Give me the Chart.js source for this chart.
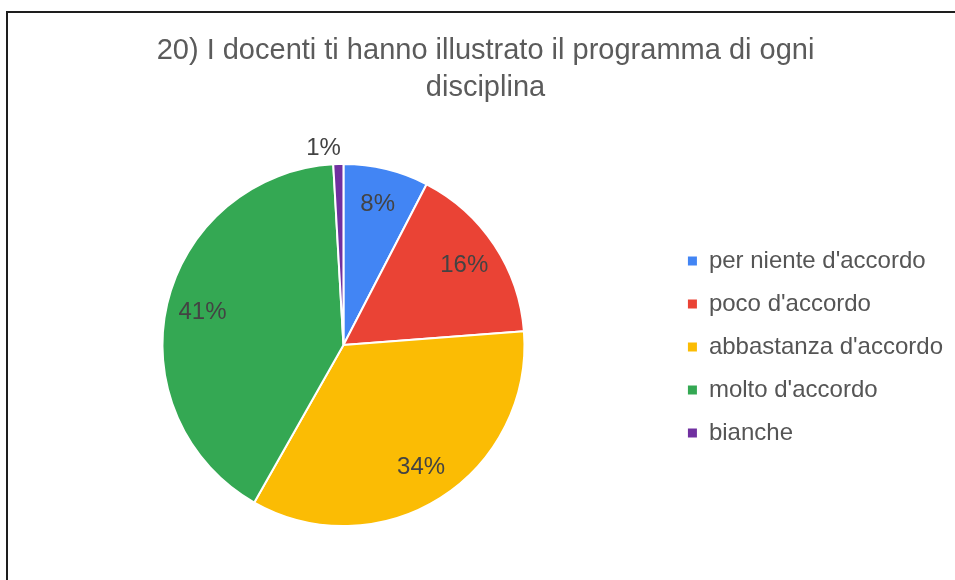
<!DOCTYPE html>
<html>
<head>
<meta charset="utf-8">
<script src="https://cdn.jsdelivr.net/npm/chart.js@4/dist/chart.umd.min.js"></script>
<style>
  html, body { margin: 0; padding: 0; background: #fff; overflow: hidden; }
  #frame {
    position: absolute; left: 6px; top: 11px;
    width: 980px; height: 600px;
    border-left: 2px solid #1e1e1e; border-top: 2px solid #1e1e1e;
  }
  #chart { display: block; }
</style>
</head>
<body>
<div id="frame"><canvas id="chart" width="970" height="567"></canvas></div>
<script>
// valori (percentuali)
const categories = ["per niente d'accordo", "poco d'accordo", "abbastanza d'accordo", "molto d'accordo", "bianche"];
const values = [7.6, 16.2, 34.4, 40.9, 0.9];
const colors = ["#4285F4", "#EA4335", "#FBBC04", "#34A853", "#7030A0"];
const titleLines = ["20) I docenti ti hanno illustrato il programma di ogni", "disciplina"];

const FONT = "'Liberation Sans', Arial, sans-serif";

// etichette percentuali sulle fette
const sliceLabels = {
    id: 'sliceLabels',
    afterDatasetsDraw(chart) {
        const ctx = chart.ctx;
        const total = values.reduce((a, b) => a + b, 0);
        chart.getDatasetMeta(0).data.forEach(function (arc, i) {
            const p = arc.getProps(['x', 'y', 'startAngle', 'endAngle', 'outerRadius'], true);
            const mid = (p.startAngle + p.endAngle) / 2;
            const pct = values[i] / total * 100;
            const txt = Math.round(pct) + '%';
            ctx.save();
            ctx.font = '24px ' + FONT;
            ctx.fillStyle = '#434343';
            ctx.textBaseline = 'middle';
            if (pct >= 3) {
                const r = p.outerRadius * 0.8;
                ctx.textAlign = 'center';
                ctx.fillText(txt, p.x + Math.cos(mid) * r, p.y + Math.sin(mid) * r);
            } else {
                const r = p.outerRadius * 1.09;
                ctx.textAlign = 'right';
                ctx.fillText(txt, p.x + Math.cos(mid) * r + 3, p.y + Math.sin(mid) * r + 1);
            }
            ctx.restore();
        });
    }
};

new Chart(document.getElementById('chart'), {
    type: 'pie',
    data: {
        labels: categories,
        datasets: [{
            data: values,
            backgroundColor: colors,
            borderColor: '#ffffff',
            borderWidth: 2
        }]
    },
    options: {
        responsive: false,
        animation: false,
        layout: { padding: { left: 10, right: 25, top: 0, bottom: 53 } },
        plugins: {
            title: {
                display: true,
                text: titleLines,
                color: '#5b5b5b',
                font: { family: FONT, size: 29, weight: 'normal', lineHeight: 1.276 },
                padding: { top: 19.5, bottom: 56.5 }
            },
            legend: {
                position: 'right',
                align: 'start',
                title: {
                    display: true,
                    text: ' ',
                    font: { size: 12, lineHeight: 1.2 },
                    padding: { top: 202.6, bottom: 0 }
                },
                labels: {
                    color: '#555555',
                    font: { family: FONT, size: 24 },
                    boxWidth: 9,
                    boxHeight: 9,
                    padding: 19,
                    generateLabels: function (chart) {
                        return Chart.overrides.pie.plugins.legend.labels.generateLabels(chart).map(function (l) {
                            l.strokeStyle = l.fillStyle;
                            l.lineWidth = 0;
                            return l;
                        });
                    }
                }
            },
            tooltip: { enabled: false }
        }
    },
    plugins: [sliceLabels]
});
</script>
</body>
</html>
